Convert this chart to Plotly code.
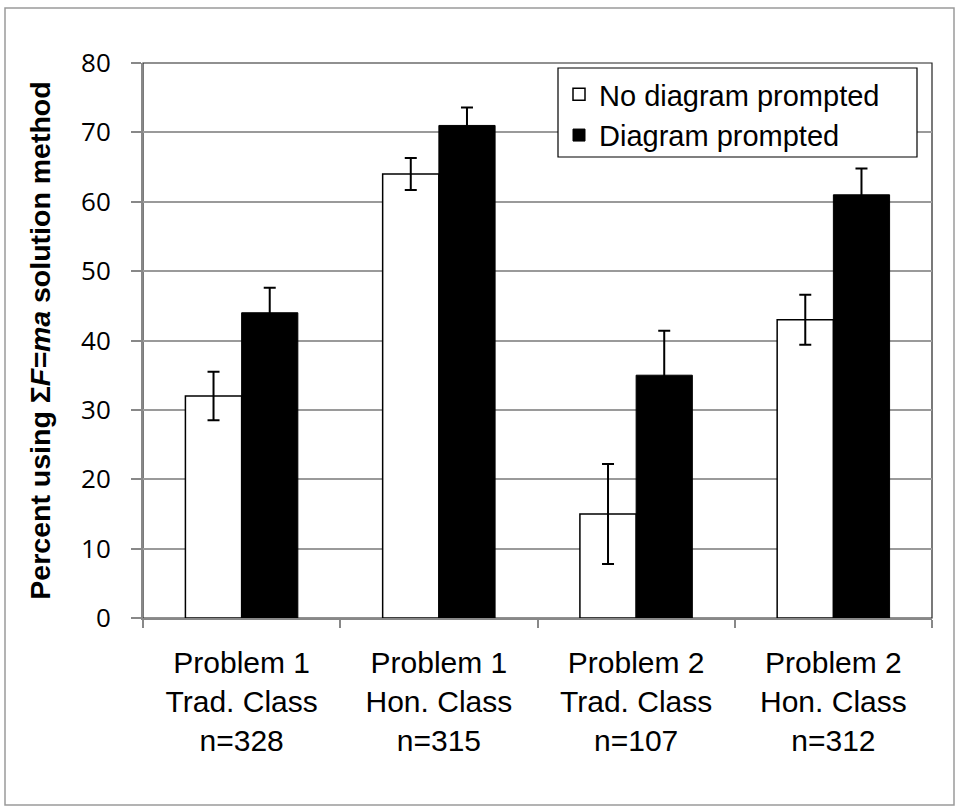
import plotly.graph_objects as go

categories = ["Problem 1<br>Trad. Class<br>n=328",
              "Problem 1<br>Hon. Class<br>n=315",
              "Problem 2<br>Trad. Class<br>n=107",
              "Problem 2<br>Hon. Class<br>n=312"]
no_diagram = [32, 64, 15, 43]
no_diagram_err = [3.5, 2.3, 7.2, 3.6]
diagram = [44, 71, 35, 61]
diagram_err = [3.6, 2.6, 6.4, 3.8]
y_ticks = [0, 10, 20, 30, 40, 50, 60, 70, 80]

FONT = "Liberation Sans, Arial, sans-serif"

fig = go.Figure()
fig.add_trace(go.Bar(
    x=categories, y=no_diagram, name="No diagram prompted",
    marker=dict(color="white", line=dict(color="black", width=1.5)),
    error_y=dict(type="data", array=no_diagram_err, color="black", thickness=2, width=6),
))
fig.add_trace(go.Bar(
    x=categories, y=diagram, name="Diagram prompted",
    marker=dict(color="black", line=dict(color="black", width=1)),
    error_y=dict(type="data", array=diagram_err, color="black", thickness=2, width=6),
))

L, R, T, B = 143, 29, 63, 194
W, H = 961, 812
pw, ph = W - L - R, H - T - B


def px_x(x):
    return (x - L) / pw


def px_y(y):
    return (H - B - y) / ph


fig.update_layout(
    width=W, height=H,
    margin=dict(l=L, r=R, t=T, b=B),
    paper_bgcolor="white", plot_bgcolor="white",
    barmode="group", bargap=0.43, bargroupgap=0,
    font=dict(family=FONT, color="black"),
    showlegend=True,
    legend=dict(
        x=px_x(559), y=px_y(69), xanchor="left", yanchor="top",
        bgcolor="rgba(0,0,0,0)", borderwidth=0,
        font=dict(size=29, family=FONT, color="black"),
    ),
    shapes=[
        dict(type="rect", xref="paper", yref="paper", x0=0, x1=1, y0=0, y1=1,
             line=dict(color="#222222", width=1.2), layer="below"),
        dict(type="rect", xref="paper", yref="paper",
             x0=px_x(5), x1=px_x(954), y0=px_y(805), y1=px_y(8),
             line=dict(color="#9a9a9a", width=1.5), layer="below"),
        dict(type="rect", xref="paper", yref="paper",
             x0=px_x(558), x1=px_x(917), y0=px_y(157), y1=px_y(68),
             line=dict(color="black", width=1.2), fillcolor="white", layer="above"),
    ],
)
fig.update_xaxes(
    type="category", tickson="boundaries", ticks="outside", ticklen=8,
    tickcolor="#888888", tickwidth=1.5, ticklabelstandoff=17,
    showline=True, linecolor="#888888", linewidth=2,
    tickfont=dict(size=30, family=FONT, color="black"),
    showgrid=False,
)
fig.update_yaxes(
    range=[0, 80], tickvals=y_ticks, ticks="outside", ticklen=10,
    tickcolor="#888888", tickwidth=1.5, ticklabelstandoff=15,
    showline=True, linecolor="#888888", linewidth=2,
    showgrid=True, gridcolor="#9a9a9a", gridwidth=1.5,
    tickfont=dict(size=26, family="Open Sans, sans-serif", color="black"),
    title=dict(text="<b>Percent using \u03a3<i>F=ma</i> solution method</b>",
               font=dict(size=28.5, family=FONT, color="black"), standoff=22),
    zeroline=False,
)
fig.write_html("out.html", config={"displayModeBar": False},
               post_script="document.body.style.margin='0';")
